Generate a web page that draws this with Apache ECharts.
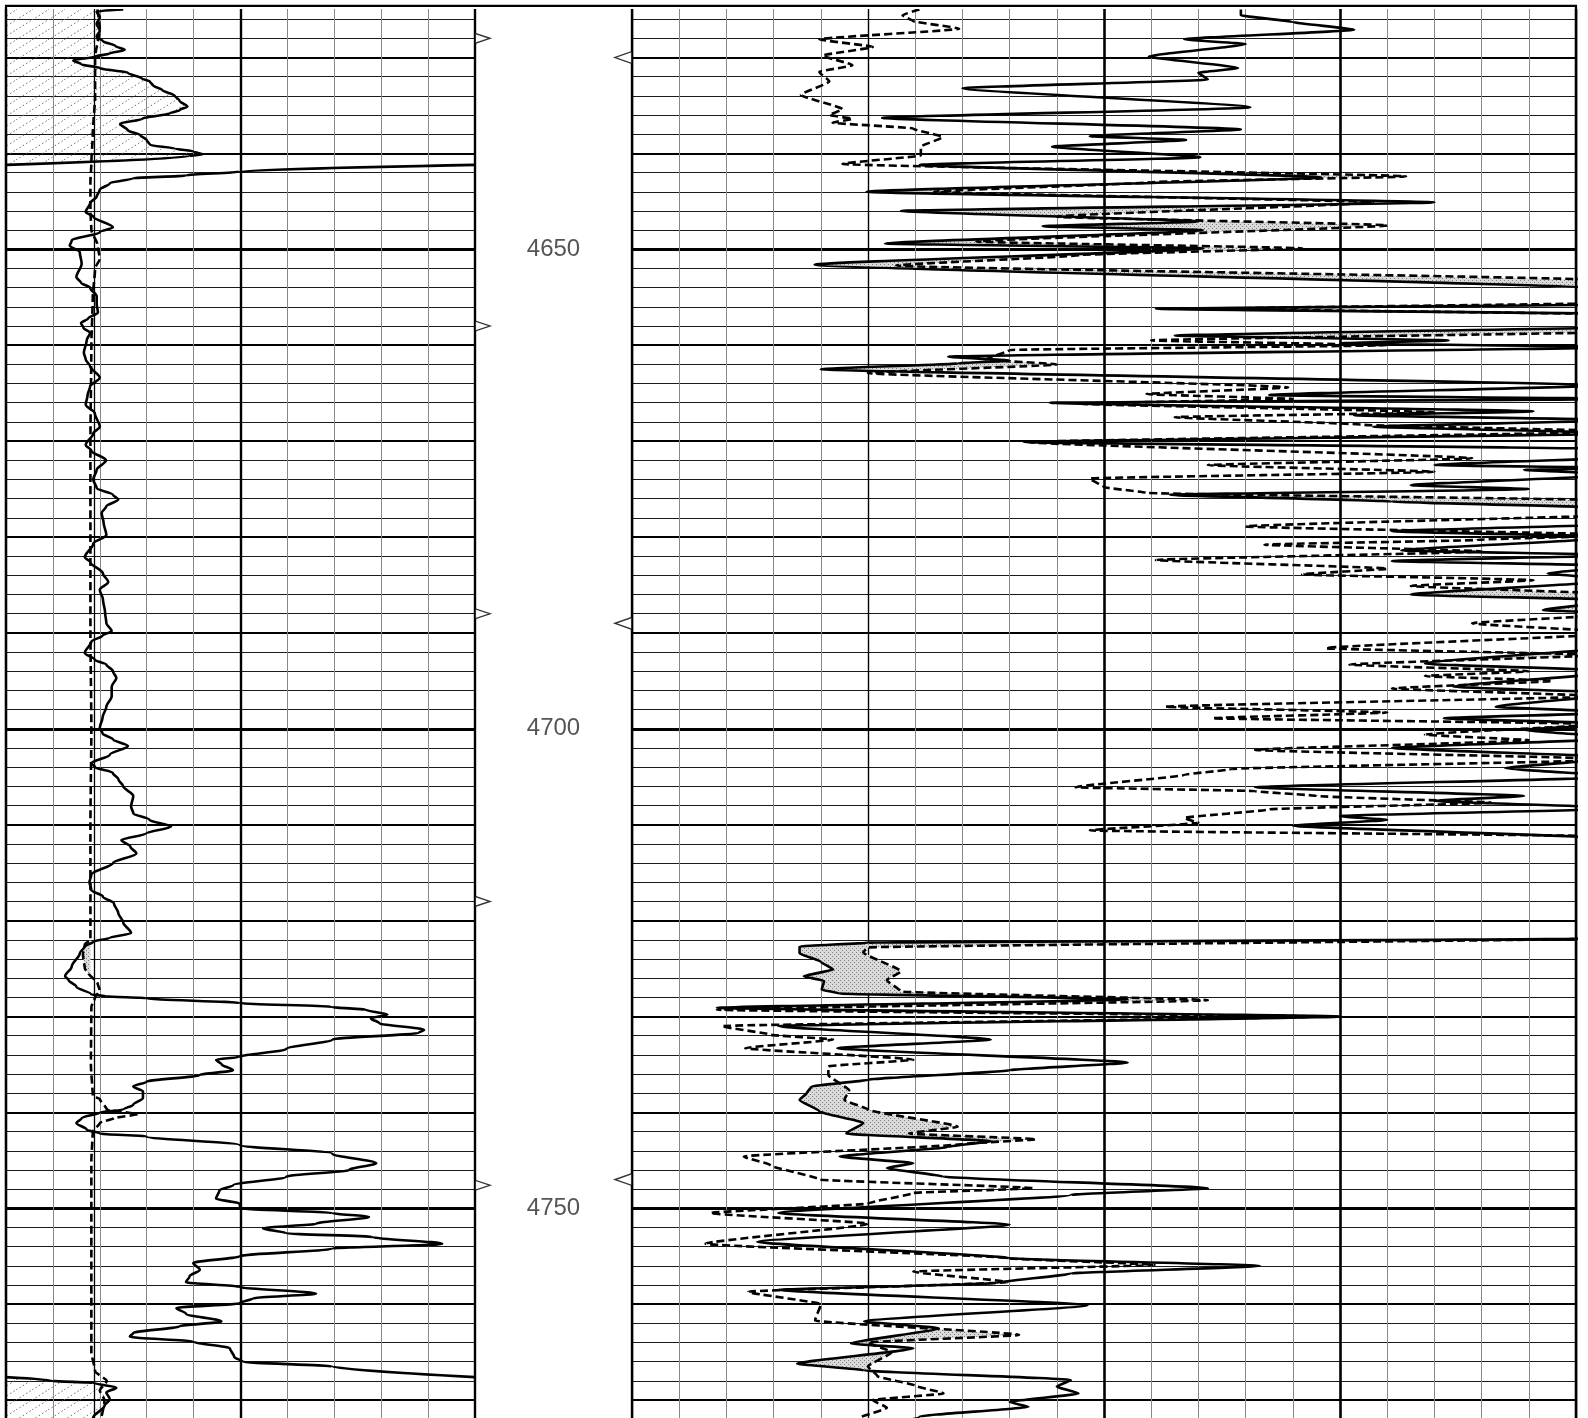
<!DOCTYPE html>
<html><head><meta charset="utf-8">
<script src="https://cdn.jsdelivr.net/npm/echarts@6/dist/echarts.min.js"></script>
<style>html,body{margin:0;padding:0;background:#fff}#chart{width:1588px;height:1418px}</style>
</head><body><div id="chart"></div>
<script>
// ---------- scales ----------
const DEPTH_RANGE = [4600, 4780];
const GR_RANGE = [0, 150];      // API, wraps to backup scale above 150
const CALI_RANGE = [6, 16];     // inches
const RES_RANGE = [0, 20];      // ohm.m
const BIT_SIZE = 7.875;
const CALI_REF = 7.8;

// ---------- labels / markers ----------
const depthLabels = [4650, 4700, 4750];
const leftMarkers = [4628, 4658, 4688, 4718, 4747.6];
const rightMarkers = [4630, 4689, 4747];

// ---------- curves: [depth, value] ----------
const gammaRay = [[4625.0,187.5],[4625.2,179],[4625.8,180],[4626.5,179],[4627.2,180],[4627.8,179],[4628.3,181],[4628.8,185],[4629.2,188],[4629.6,183],[4629.9,178.5],[4630.3,171.5],[4630.7,174],[4631.1,180],[4631.6,189],[4632.2,193.5],[4632.5,196],[4632.9,197],[4633.4,200],[4634.0,204],[4634.5,205.5],[4635.1,208],[4635.5,205.5],[4635.8,202.5],[4636.4,193.5],[4636.9,186.5],[4637.6,189],[4638.1,193],[4638.6,195],[4639.1,196],[4639.5,204],[4639.8,210],[4640.1,213],[4640.3,208.5],[4641.2,150],
[4641.9,74.7],[4642.3,57.6],[4642.6,40.7],[4643.1,33.2],[4643.8,30],[4644.5,29],[4645.2,26.9],[4646.1,25.5],[4646.6,27.9],[4647.7,34.2],[4648.2,30],[4649.1,21],[4649.6,20.4],[4650.3,23.6],[4651.5,24.2],[4652.9,22.5],[4653.5,24],[4654.0,26.9],[4654.9,29],[4655.7,29],[4656.6,29.4],[4657.2,26.3],[4657.7,24],[4658.2,24.8],[4658.7,26.9],[4659.5,25.8],[4660.8,24.9],[4661.5,25.5],[4662.2,26.9],[4663.4,30],[4664.3,26.9],[4665.2,26.1],[4666.2,25.5],[4667.1,28.4],[4668.5,30],[4669.2,27.9],[4670.4,25.5],[4671.0,27.3],[4672.0,32],[4673.0,29],[4674.0,27.9],[4674.9,29],[4675.6,34.2],[4676.1,35.9],[4676.8,32.1],[4677.5,30.6],[4678.5,31.2],[4679.8,32.1],[4680.7,27.9],[4682.1,25.2],[4682.6,26.9],[4683.8,31],[4684.7,32.7],[4685.5,30],[4686.5,31],[4687.9,31.7],[4689.0,32.1],[4689.8,33.8],[4690.3,30.8],[4690.9,27.3],[4692.1,25.2],[4692.8,28.4],[4693.3,32.1],[4694.0,34.2],[4694.7,35.3],[4695.6,33.8],[4696.6,33.8],[4697.7,32.1],[4698.8,30.9],[4699.9,30],[4700.5,30.9],[4701.1,34.2],[4701.8,39],[4702.7,33.2],[4703.6,27.3],[4704.0,28.5],[4704.6,34.2],[4705.3,36],[4706.0,37.5],[4707.0,40.7],[4708.1,40],[4708.8,40.7],[4709.5,45.9],[4710.2,52.8],[4710.9,44.9],[4711.6,36.9],[4712.3,39.8],[4713.0,41.7],[4714.0,34.2],[4715.2,27.3],[4716.0,26.7],[4716.8,27.3],[4717.5,31],[4718.2,34.5],[4719.2,35.9],[4720.2,37.5],[4721.3,40],[4721.8,33.2],[4722.2,27.9],[4722.7,25.2],[4723.4,23.6],[4724.8,21],[4725.8,18.9],[4726.2,20],[4726.9,22.5],[4727.7,27.3],[4727.9,32.1],[4728.1,44.9],[4728.6,74.7],[4729.0,104.4],[4729.3,115],[4729.8,122],[4730.2,116.7],[4730.7,119.4],[4731.4,133.7],[4731.7,132],[4732.4,104.4],[4733.4,89.6],[4734.2,74.7],[4734.5,67.2],[4735.0,69],[4735.6,72.6],[4736.1,62],[4736.8,44.9],[4737.3,40.7],[4737.8,43.8],[4738.5,43.8],[4739.2,40.7],[4739.7,37.5],[4740.0,30],[4740.6,24.2],[4741.1,22.5],[4741.8,25.8],[4742.2,30],[4742.5,44.9],[4743.4,74.7],[4744.3,104.4],[4745.3,118.4],[4746.0,109.8],[4746.7,89.6],[4747.6,72.6],[4748.1,68.3],[4749.0,67.2],[4749.5,74.7],[4750.0,75],[4750.5,104.4],[4750.9,116.1],[4751.6,99.2],[4752.1,82.2],[4752.6,89.6],[4753.0,117.3],[4753.7,139.5],[4754.2,104.4],[4755.0,74.7],[4755.7,59.9],[4756.4,62],[4757.1,58.7],[4757.7,57.6],[4758.2,74.7],[4758.9,99.2],[4759.4,78.9],[4759.9,74.7],[4760.4,54.5],[4761.0,57.6],[4761.8,68.9],[4762.3,55.5],[4763.0,40.7],[4763.4,39.6],[4763.9,59.9],[4764.6,71.6],[4765.5,73],[4766.0,75.8],[4766.5,104.4],[4767.6,150],[4768.0,165],[4768.2,177.9],[4768.7,185.3],[4769.2,182.1],[4769.9,183.2],[4770.6,181.5],[4771.8,177.9],[4772.5,178.5]];

const caliper = [[4625,7.95],[4627,8.0],[4630,7.9],[4634,7.9],[4638,7.85],[4641,7.82],[4643,7.8],[4646,7.8],[4648,7.82],[4649.5,7.95],[4651,8.0],[4652,7.9],[4655,7.85],[4660,7.82],[4670,7.8],[4680,7.8],[4690,7.8],[4700,7.82],[4710,7.8],[4720,7.8],[4722,7.8],[4722.5,7.68],[4723.5,7.64],[4725,7.68],[4725.5,7.76],[4726.5,7.95],[4727.3,8.0],[4728,7.9],[4729,7.82],[4735,7.81],[4738.3,7.85],[4738.6,8.0],[4739.7,8.15],[4740.2,8.8],[4740.6,8.3],[4741.1,8.0],[4742,7.85],[4745,7.82],[4755,7.82],[4765,7.82],[4767,7.9],[4768,8.15],[4769,8.0],[4770,8.1],[4772.5,8.0]];

const resDeep = [[4625.0,12.9],[4625.6,12.9],[4626.3,14.0],[4627.1,15.3],[4628.1,11.7],[4628.6,13.0],[4629.9,10.95],[4631.1,12.84],[4631.6,12.0],[4632.3,12.2],[4633.2,7.0],[4635.2,13.1],[4636.3,5.3],[4637.5,12.9],[4638.2,9.7],[4638.6,11.74],[4639.3,8.9],[4640.4,12.04],[4641.2,6.1],[4642.5,14.6],[4644.0,4.97],[4645.1,17.0],[4646.0,5.7],[4647.1,12.0],[4647.6,8.7],[4648.0,12.1],[4649.4,5.36],[4649.9,12.1],[4651.6,3.87],[4654.1,20.5],[4655.0,23],[4655.7,22],[4656.2,11.1],[4656.8,22],[4658.0,22],[4659.0,11.5],[4659.5,17.3],[4659.8,15],[4660.2,21],[4661.2,6.7],[4661.6,8.0],[4661.9,6.9],[4662.5,4.0],[4664.2,20.5],[4665.2,13.5],[4665.6,21],[4666.0,8.85],[4666.9,19.1],[4667.3,15.3],[4667.8,21],[4668.5,15.7],[4669.2,21],[4670.1,8.3],[4670.8,20.5],[4671.5,22],[4672.5,17.0],[4672.8,21],[4673.0,18.9],[4673.5,21],[4674.6,16.5],[4675.0,19],[4675.6,11.4],[4676.3,16.1],[4677.0,21],[4678.5,22],[4679.4,16.1],[4680.0,21],[4681.4,16.3],[4681.9,21],[4682.5,16.1],[4683.0,21],[4683.8,19.4],[4684.5,21],[4686.0,16.5],[4686.6,21],[4687.6,19.3],[4688.2,22],[4691.0,22],[4693.2,16.8],[4694.0,21],[4695.6,17.4],[4696.3,21],[4697.7,18.3],[4698.3,21],[4698.9,17.2],[4699.5,21],[4700.1,18.9],[4701.0,21],[4702.0,16.1],[4703.0,21],[4704.1,18.5],[4705.0,21],[4706.1,13.2],[4707.0,18.9],[4707.5,17],[4708.3,21],[4709.1,15.0],[4709.5,16],[4710.1,14.0],[4711.4,20.5],[4712,24],[4721.5,24],[4721.9,20],[4722.3,5.0],[4722.7,3.55],[4723.4,3.55],[4724.3,4.0],[4725.1,4.26],[4725.8,3.64],[4726.3,4.07],[4727.2,4.02],[4727.6,4.4],[4728.2,10.5],[4729.1,1.8],[4730.0,15.0],[4731.0,3.1],[4732.4,7.6],[4733.3,4.35],[4734.8,10.5],[4735.6,8.0],[4736.6,5.0],[4737.3,3.8],[4738.0,3.7],[4738.7,3.55],[4739.9,3.97],[4741.1,4.9],[4742.2,4.54],[4743.0,7.6],[4743.6,6.7],[4744.6,4.4],[4745.3,5.96],[4745.8,5.4],[4746.7,6.6],[4747.9,12.2],[4748.6,9.3],[4750.5,3.1],[4751.7,8.0],[4753.5,2.65],[4755.2,8.0],[4756.0,13.3],[4756.8,9.3],[4757.8,7.7],[4758.5,3.1],[4760.1,9.65],[4761.8,4.92],[4762.5,6.5],[4764.1,4.64],[4764.6,5.96],[4766.2,3.5],[4766.9,4.92],[4767.9,9.3],[4768.6,9.0],[4769.3,9.46],[4770.2,8.0],[4770.7,8.4],[4771.7,6.1],[4772.5,5.5]];

const resShallow = [[4625.0,6.09],[4625.6,5.73],[4626.2,5.95],[4627.0,6.93],[4628.1,3.97],[4628.9,5.1],[4629.8,4.04],[4630.8,4.67],[4631.5,3.97],[4632.5,4.18],[4633.9,3.58],[4635.4,4.46],[4636.0,4.18],[4636.4,4.67],[4636.8,4.25],[4637.4,5.95],[4638.3,6.58],[4639.3,6.12],[4640.2,6.12],[4641.1,4.46],[4642.4,16.4],[4643.0,11],[4644.0,6.4],[4645.1,15.7],[4646.6,9.0],[4647.5,16.0],[4649.2,7.3],[4649.9,14.2],[4650.6,9.5],[4651.7,5.6],[4653.2,20.5],[4655.5,22],[4656.2,12.5],[4656.8,21],[4658.5,22],[4659.5,11.0],[4660.0,16],[4660.5,8.0],[4661.5,7.5],[4662.0,9],[4662.9,5.0],[4664.4,13.9],[4665.1,10.9],[4665.6,14],[4666.1,9.5],[4667.0,17],[4667.5,11.5],[4668.3,15.5],[4669.0,21],[4670.1,8.4],[4671.8,17.8],[4672.5,12.2],[4673.2,17],[4673.9,9.7],[4674.8,10],[4675.4,10.9],[4676.2,21],[4677.5,22],[4678.9,13.0],[4679.8,21],[4680.3,17.9],[4680.8,13.4],[4681.5,18],[4682.4,11.1],[4683.3,16.0],[4683.9,14.2],[4684.5,19.1],[4685.1,16.5],[4686.0,21],[4688.0,21],[4689.0,17.8],[4690.0,21],[4691.6,14.7],[4692.3,20.5],[4693.3,15.2],[4694.0,19],[4694.5,16.8],[4695.0,19.5],[4695.8,16.1],[4696.6,20.5],[4697.7,11.3],[4698.3,16],[4698.9,12.3],[4699.5,20.5],[4700.6,16.8],[4701.2,19],[4702.2,13.2],[4703.2,21],[4704.2,12.7],[4704.8,11.7],[4706.1,9.4],[4706.5,13.2],[4707.0,14.5],[4707.7,18.2],[4708.4,13.5],[4709.3,11.7],[4709.8,12.0],[4710.6,9.7],[4711.2,20.5],[4712,24],[4721.5,24],[4721.9,20],[4722.8,5.0],[4723.3,4.9],[4725.3,5.7],[4726.2,5.4],[4727.4,5.7],[4728.3,12.2],[4729.3,1.8],[4730.0,14.5],[4731.0,1.9],[4731.9,2.93],[4732.4,4.26],[4733.3,2.4],[4734.5,5.96],[4735.2,4.16],[4736.1,4.16],[4737.7,4.6],[4738.7,4.5],[4739.7,5.0],[4741.5,6.9],[4742.2,5.87],[4742.8,8.56],[4743.3,7.0],[4744.6,2.37],[4745.5,2.93],[4747.0,3.97],[4747.9,8.5],[4748.4,5.96],[4749.5,5.0],[4750.5,1.66],[4751.6,5.0],[4753.7,1.56],[4755.2,7.95],[4755.9,11.07],[4756.6,5.96],[4757.7,7.95],[4758.7,2.46],[4760.0,4.0],[4761.7,3.88],[4763.2,8.2],[4764.0,5.0],[4765.0,5.5],[4766.5,5.0],[4767.5,5.2],[4768.5,6.0],[4769.3,6.6],[4770.0,5.1],[4770.8,5.4],[4771.8,4.8]];

// ---------- helpers ----------
function toXY(pts){ return pts.map(p => [p[1], p[0]]); }
function interpolator(pts){
  return function(d){
    if (d <= pts[0][0]) return pts[0][1];
    if (d >= pts[pts.length-1][0]) return pts[pts.length-1][1];
    let lo = 0, hi = pts.length - 1;
    while (hi - lo > 1){ const m = (lo + hi) >> 1; if (pts[m][0] <= d) lo = m; else hi = m; }
    const a = pts[lo], b = pts[hi];
    return a[1] + (b[1] - a[1]) * (d - a[0]) / (b[0] - a[0]);
  };
}
function wrapCurve(pts, max){
  const segs = []; let cur = null;
  for (let i = 0; i < pts.length; i++){
    const d = pts[i][0], v = pts[i][1];
    const b = v > max ? 1 : 0;
    if (cur === null) cur = {band: b, pts: []};
    else if (b !== cur.band){
      const d0 = pts[i-1][0], v0 = pts[i-1][1];
      const dc = d0 + (max - v0) / (v - v0) * (d - d0);
      cur.pts.push([cur.band === 1 ? 0 : max, dc]);
      segs.push(cur);
      cur = {band: b, pts: [[b === 1 ? 0 : max, dc]]};
    }
    cur.pts.push([v - b * max, d]);
  }
  segs.push(cur);
  return segs;
}
function bandPolys(fL, fR, d0, d1, step){
  const polys = []; let L = null, R = null;
  for (let d = d0; d <= d1 + 1e-9; d += step){
    const a = fL(d), b = fR(d);
    if (a < b){ if (!L){ L = []; R = []; } L.push([a, d]); R.push([b, d]); }
    else if (L){ polys.push(L.concat(R.reverse())); L = null; R = null; }
  }
  if (L) polys.push(L.concat(R.reverse()));
  return polys;
}
function makePattern(w, h, draw){
  const c = document.createElement('canvas'); c.width = w; c.height = h;
  draw(c.getContext('2d')); return {image: c, repeat: 'repeat'};
}
const hatchFill = makePattern(16, 10, ctx => {
  ctx.strokeStyle = '#6f6f6f'; ctx.lineWidth = 1; ctx.setLineDash([1.5, 2.5]);
  ctx.beginPath(); ctx.moveTo(0, 10); ctx.lineTo(16, 0); ctx.stroke();
});
const stippleFill = makePattern(4, 4, ctx => {
  ctx.fillStyle = '#dadada'; ctx.fillRect(0, 0, 4, 4);
  ctx.fillStyle = '#808080'; ctx.fillRect(0, 0, 1, 1); ctx.fillRect(2, 2, 1, 1);
});

// ---------- derived geometry ----------
const grSegs = wrapCurve(gammaRay, GR_RANGE[1]);
const backupPolys = grSegs.filter(s => s.band === 1).map(s => {
  const p = s.pts; return [[0, p[0][1]]].concat(p).concat([[0, p[p.length-1][1]]]);
});
const caliF = interpolator(caliper);
const caliPolys = bandPolys(caliF, () => CALI_REF, caliper[0][0], caliper[caliper.length-1][0], 0.02);
const rdF = interpolator(resDeep), rsF = interpolator(resShallow);
const clampRes = v => Math.max(RES_RANGE[0], Math.min(RES_RANGE[1], v));
const resPolys = bandPolys(d => clampRes(rdF(d)), d => clampRes(rsF(d)), 4625, 4772.5, 0.02);

// ---------- layout ----------
const PX_PER_FT = 9.59, Y4650 = 249.3;
const gridTop = Y4650 - (4650 - DEPTH_RANGE[0]) * PX_PER_FT;
const gridH = (DEPTH_RANGE[1] - DEPTH_RANGE[0]) * PX_PER_FT;
const gridBase = {top: gridTop, height: gridH, containLabel: false, outerBoundsMode: 'none'};
const grids = [
  Object.assign({left: 6, width: 469}, gridBase),
  Object.assign({left: 475, width: 157}, gridBase),
  Object.assign({left: 632, width: 944}, gridBase)
];
const hidden = {axisLine: {show: false}, axisTick: {show: false}, axisLabel: {show: false}};
function xAx(grid, range, interval, line){
  return Object.assign({type: 'value', gridIndex: grid, min: range[0], max: range[1], interval: interval || undefined,
    splitLine: line ? {show: true, lineStyle: line} : {show: false}}, hidden);
}
function yAx(grid, interval, line){
  return Object.assign({type: 'value', gridIndex: grid, inverse: true, min: DEPTH_RANGE[0], max: DEPTH_RANGE[1], interval: interval,
    splitLine: line ? {show: true, lineStyle: line} : {show: false}}, hidden);
}
const thin = {color: '#1a1a1a', width: 1}, mid = {color: '#000', width: 2}, heavy = {color: '#000', width: 3};
const xAxes = [
  xAx(0, GR_RANGE, 15, {color: '#888', width: 1}),       // 0
  xAx(0, GR_RANGE, 75, {color: '#000', width: 2.4}),     // 1
  xAx(0, CALI_RANGE, 0, null),                           // 2
  xAx(1, [0, 157], 0, null),                             // 3
  xAx(2, RES_RANGE, 1, {color: '#888', width: 1}),       // 4
  xAx(2, RES_RANGE, 5, {color: '#000', width: 1.4}),     // 5
  xAx(2, RES_RANGE, 20, {color: '#000', width: 2.4})     // 6
];
const yAxes = [
  yAx(0, 2, thin), yAx(0, 10, mid), yAx(0, 50, heavy),
  yAx(1, 10, null),
  yAx(2, 2, thin), yAx(2, 10, mid), yAx(2, 50, heavy)
];

function polySeries(xi, yi, polys, fill, midX){
  return {type: 'custom', xAxisIndex: xi, yAxisIndex: yi, z: 1, silent: true, animation: false,
    data: [[midX, 4700]],
    renderItem: (params, api) => ({type: 'group', children: polys.map(poly => ({
      type: 'polygon', shape: {points: poly.map(p => api.coord(p))}, style: {fill: fill, stroke: null}}))})};
}
const solid = {color: '#000', width: 2.6, type: 'solid'};
const dashed = {color: '#000', width: 2.6, type: [8, 4]};
function lineSeries(xi, yi, data, style, extra){
  return Object.assign({type: 'line', xAxisIndex: xi, yAxisIndex: yi, data: data, symbol: 'none', showSymbol: false,
    lineStyle: style, z: 3, silent: true, animation: false, clip: true, smoothMonotone: 'y'}, extra || {});
}
const series = [
  polySeries(0, 0, backupPolys, hatchFill, 75),
  polySeries(2, 0, caliPolys, stippleFill, 10),
  polySeries(4, 4, resPolys, stippleFill, 10),
  lineSeries(2, 0, toXY(caliper), dashed, {smooth: 0.2, markLine: {symbol: 'none', silent: true, animation: false, label: {show: false},
    lineStyle: {color: '#000', width: 1.3, type: 'solid'}, data: [{xAxis: BIT_SIZE}]}}),
  ...grSegs.map(s => lineSeries(0, 0, s.pts, solid, {smooth: 0.3})),
  lineSeries(4, 4, toXY(resShallow), dashed, {smooth: 0.15}),
  lineSeries(4, 4, toXY(resDeep), solid, {smooth: 0.15, markLine: {symbol: 'none', silent: true, animation: false, label: {show: false},
    lineStyle: {color: '#000', width: 2.5, type: 'solid'}, data: [{xAxis: 10}, {xAxis: 15}]}}),
  {type: 'scatter', xAxisIndex: 3, yAxisIndex: 3, data: depthLabels.map(d => [78.5, d]), symbolSize: 1,
    itemStyle: {color: 'rgba(0,0,0,0)'}, silent: true, animation: false, z: 5,
    label: {show: true, position: 'inside', formatter: p => String(p.value[1]), fontFamily: 'Liberation Sans, Arial, sans-serif',
      fontSize: 24, color: '#2a2a2a'}},
  {type: 'scatter', xAxisIndex: 3, yAxisIndex: 3, data: leftMarkers.map(d => [7.5, d]), symbol: 'path://M0,0L15,5L0,10Z',
    symbolSize: [15, 10], itemStyle: {color: '#fff', borderColor: '#000', borderWidth: 1.6}, silent: true, animation: false, z: 5},
  {type: 'scatter', xAxisIndex: 3, yAxisIndex: 3, data: rightMarkers.map(d => [148.5, d]), symbol: 'path://M17,0L0,6L17,12Z',
    symbolSize: [17, 12], itemStyle: {color: '#fff', borderColor: '#000', borderWidth: 1.6}, silent: true, animation: false, z: 5}
];

const chart = echarts.init(document.getElementById('chart'), null, {renderer: 'canvas'});
chart.setOption({
  animation: false,
  backgroundColor: '#fff',
  grid: grids,
  xAxis: xAxes,
  yAxis: yAxes,
  series: series,
  graphic: [
    {type: 'rect', shape: {x: 0, y: 0, width: 1588, height: 9}, style: {fill: '#fff'}, z: 100, silent: true},
    {type: 'polyline', shape: {points: [[6, 1420], [6, 5.8], [1576, 5.8], [1576, 1420]]},
      style: {stroke: '#000', lineWidth: 2.2, fill: null}, z: 101, silent: true}
  ]
});
</script></body></html>
